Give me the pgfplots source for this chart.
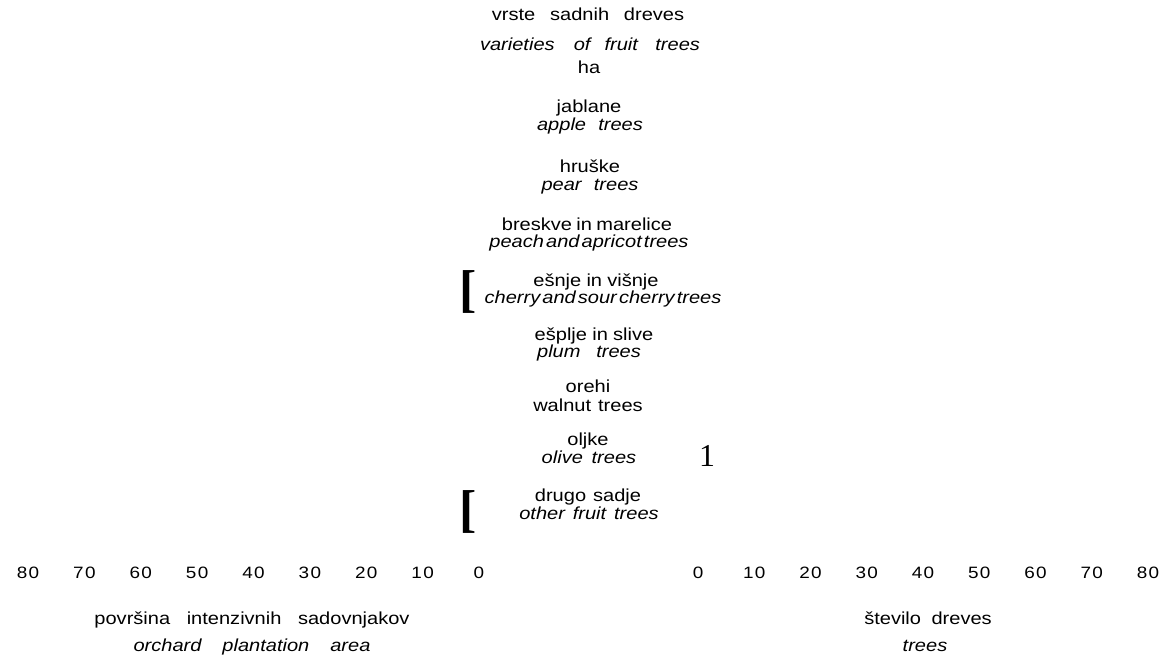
\documentclass[border=0pt]{standalone}
\usepackage{pgfplots}
\pgfplotsset{compat=1.18}
\usepackage{fontspec}
\setmainfont[FakeStretch=1.15]{Liberation Sans}
\newfontfamily\seriffont{Liberation Serif}
\begin{document}
\begin{tikzpicture}[x=1bp,y=1bp,
  lab/.style={font=\fontsize{17.5}{19}\selectfont, inner sep=0pt, text height=0.72em, text depth=0.2em, anchor=center}]
\useasboundingbox (0,0) rectangle (1164,659);
\pgfplotsset{butterfly/.style={
  scale only axis, width=451bp, height=450bp,
  xmin=0, xmax=80, ymin=0, ymax=9,
  xtick={0,10,...,80}, ytick=\empty,
  axis x line=bottom, axis y line=none,
  axis line style={draw=none}, major tick length=0pt,
  tick label style={font=\fontsize{16.5}{18}\selectfont\addfontfeatures{LetterSpace=8}},
  /pgf/number format/assume math mode=true,
  xticklabel style={yshift=-2bp},
}}
% left axis: orchard plantation area (ha)
\begin{axis}[butterfly, at={(28bp,97bp)}, anchor=south west, x dir=reverse]
\end{axis}
% right axis: number of trees
\begin{axis}[butterfly, at={(698bp,97bp)}, anchor=south west, width=450bp]
\end{axis}
% headings
\node[lab] at (588,641) {vrste\hspace{0.85em}sadnih\hspace{0.85em}dreves};
\node[lab] at (590,611) {\itshape varieties\hspace{1.1em}of\hspace{0.8em}fruit\hspace{1.0em}trees};
\node[lab] at (589,588) {ha};
% categories
\node[lab] at (589,549) {jablane};
\node[lab] at (590,531) {\itshape apple\hspace{0.7em}trees};
\node[lab] at (590,489) {hruške};
\node[lab] at (590,471) {\itshape pear\hspace{0.7em}trees};
\node[lab] at (587,431) {breskve\hspace{0.25em}in\hspace{0.25em}marelice};
\node[lab] at (589,414) {\itshape peach\hspace{0.12em}and\hspace{0.12em}apricot\hspace{0.12em}trees};
\node[lab] at (596,375) {ešnje\hspace{0.3em}in\hspace{0.3em}višnje};
\node[lab] at (603,358) {\itshape cherry\hspace{0.12em}and\hspace{0.12em}sour\hspace{0.12em}cherry\hspace{0.12em}trees};
\node[lab] at (594,321) {ešplje\hspace{0.3em}in\hspace{0.3em}slive};
\node[lab] at (589,304) {\itshape plum\hspace{0.9em}trees};
\node[lab] at (588,269) {orehi};
\node[lab] at (588,250) {walnut\hspace{0.4em}trees};
\node[lab] at (588,216) {oljke};
\node[lab] at (589,198) {\itshape olive\hspace{0.5em}trees};
\node[lab] at (588,160) {drugo\hspace{0.4em}sadje};
\node[lab] at (589,142) {\itshape other\hspace{0.45em}fruit\hspace{0.45em}trees};
% stray glyphs
\node[inner sep=0pt, font=\seriffont\fontsize{52}{52}\selectfont\bfseries] at (468,367) {[};
\node[inner sep=0pt, font=\seriffont\fontsize{52}{52}\selectfont\bfseries] at (468,147) {[};
\node[inner sep=0pt, font=\seriffont\fontsize{32}{32}\selectfont] at (707,203) {1};
% axis titles
\node[lab] at (252,37) {površina\hspace{0.95em}intenzivnih\hspace{0.95em}sadovnjakov};
\node[lab] at (252,10) {\itshape orchard\hspace{1.2em}plantation\hspace{1.2em}area};
\node[lab] at (928,37) {število\hspace{0.6em}dreves};
\node[lab] at (925,10) {\itshape trees};
\end{tikzpicture}
\end{document}
